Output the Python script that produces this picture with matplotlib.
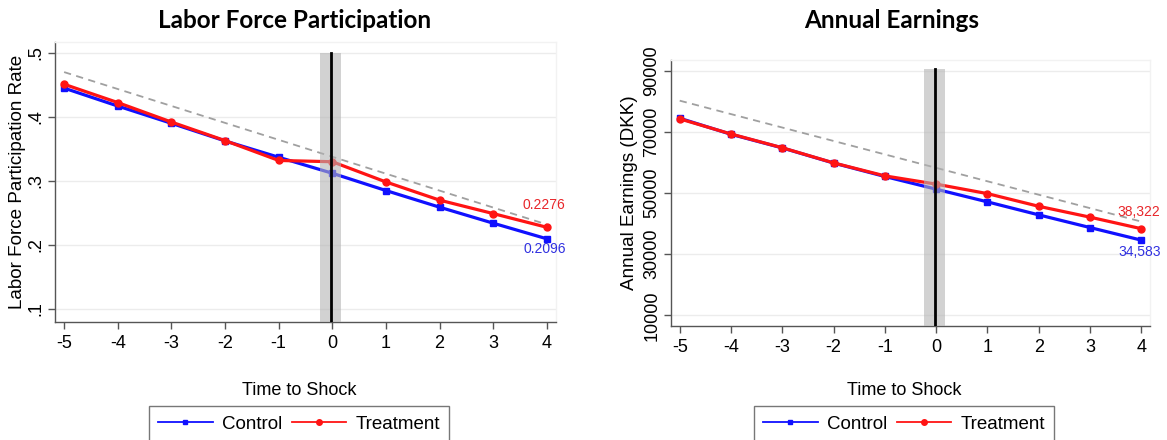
import matplotlib
matplotlib.use("Agg")
import matplotlib.pyplot as plt

plt.rcParams['font.family'] = ['Liberation Sans', 'DejaVu Sans']

# Event time relative to the shock
time_to_shock = [-5, -4, -3, -2, -1, 0, 1, 2, 3, 4]

# Labor force participation rate
lfp_control = [0.445, 0.417, 0.390, 0.3625, 0.337, 0.312, 0.285, 0.259, 0.234, 0.2096]
lfp_treatment = [0.451, 0.4224, 0.392, 0.363, 0.332, 0.330, 0.2984, 0.270, 0.249, 0.2276]
lfp_trend = [0.470, 0.232]          # dashed pre-trend projection, at t=-5 and t=4
lfp_yticks = [0.1, 0.2, 0.3, 0.4, 0.5]
lfp_yticklabels = ['.1', '.2', '.3', '.4', '.5']

# Annual earnings (DKK)
earn_control = [74450, 69200, 64750, 59800, 55400, 51250, 47100, 42850, 38700, 34583]
earn_treatment = [74250, 69300, 64800, 59850, 55600, 52900, 49800, 45650, 42100, 38322]
earn_trend = [80200, 40650]
earn_yticks = [10000, 30000, 50000, 70000, 90000]
earn_yticklabels = ['10000', '30000', '50000', '70000', '90000']

xticks = [-5, -4, -3, -2, -1, 0, 1, 2, 3, 4]
xticklabels = ['-5', '-4', '-3', '-2', '-1', '0', '1', '2', '3', '4']

BLUE = '#1010ff'
RED = '#ff1414'
GRID = '#ececec'
SPINE = '#555555'

W, H = 1167, 440
fig = plt.figure(figsize=(W / 100, H / 100), dpi=100)


def frac_box(x0, x1, ytop, ybot):
    return [x0 / W, (H - ybot) / H, (x1 - x0) / W, (ybot - ytop) / H]


def panel(ax, control, treatment, trend, ylim, yticks, yticklabels, ylabel,
          ylabel_x, band_top, end_labels, label_offsets, center_x):
    ax.set_xlim(-5.17, 4.17)
    ax.set_ylim(*ylim)
    ax.set_yticks(yticks)
    ax.set_yticklabels(yticklabels, rotation=90, va='center')
    ax.set_xticks(xticks)
    ax.set_xticklabels(xticklabels)
    ax.tick_params(axis='both', labelsize=13, length=5, width=1, color=SPINE,
                   direction='out', pad=4)
    ax.tick_params(axis='y', pad=2.5)
    for y in yticks:
        ax.axhline(y, color=GRID, lw=1, zorder=0)
    for s in ['top', 'right']:
        ax.spines[s].set_color('#f2f2f2')
        ax.spines[s].set_linewidth(1)
    for s in ['left', 'bottom']:
        ax.spines[s].set_color(SPINE)
        ax.spines[s].set_linewidth(1)

    ax.plot([time_to_shock[0], time_to_shock[-1]], trend, color='#a0a0a0',
            lw=1.3, ls=(0, (4, 3)), zorder=2)
    ax.plot(time_to_shock, control, color=BLUE, lw=2.3, marker='s', ms=4,
            zorder=3, label='Control')
    ax.plot(time_to_shock, treatment, color=RED, lw=2.3, marker='o', ms=5,
            zorder=4, label='Treatment')

    # shock window
    ax.fill_between([-0.23, 0.17], ylim[0], band_top, color='#b4b4b4',
                    alpha=0.6, lw=0, zorder=5)
    ax.plot([-0.03, -0.03], [ylim[0], band_top], color='black', lw=2, zorder=6)

    ax.set_ylabel(ylabel, fontsize=13.6)
    x0 = ax.get_position().x0 * W
    ax.yaxis.set_label_coords((ylabel_x - x0) / (ax.get_position().width * W), 0.5)
    fig.text(center_x / W, 1 - 390 / H, 'Time to Shock', ha='center',
             va='center', fontsize=13)

    (tlab, clab), (toff, coff) = end_labels, label_offsets
    ax.annotate(tlab, (time_to_shock[-1], treatment[-1]), xytext=(-3, toff),
                textcoords='offset pixels', ha='center', va='center',
                color='#e8262a', fontsize=10, annotation_clip=False, zorder=7)
    ax.annotate(clab, (time_to_shock[-1], control[-1]), xytext=(-2, coff),
                textcoords='offset pixels', ha='center', va='center',
                color='#3030e0', fontsize=10, annotation_clip=False, zorder=7)

    leg = ax.legend(loc='upper center', bbox_to_anchor=(center_x / W, 1 - 406 / H),
                    bbox_transform=fig.transFigure, ncol=2,
                    fontsize=13.5, frameon=True, fancybox=False, handlelength=2.9,
                    handletextpad=0.5, columnspacing=0.5, borderpad=0.5,
                    borderaxespad=0, markerscale=0.8)
    leg.get_frame().set_edgecolor('#555555')
    leg.get_frame().set_linewidth(1)
    for h in leg.legend_handles:
        h.set_linewidth(1.3)


ax1 = fig.add_axes(frac_box(55, 556, 42, 322))
panel(ax1, lfp_control, lfp_treatment, lfp_trend, (0.0797, 0.517),
      lfp_yticks, lfp_yticklabels, 'Labor Force Participation Rate', 26, 0.5,
      ('0.2276', '0.2096'), (22, -10), 299)

ax2 = fig.add_axes(frac_box(671, 1150, 60, 326))
panel(ax2, earn_control, earn_treatment, earn_trend, (6500, 93500),
      earn_yticks, earn_yticklabels, 'Annual Earnings (DKK)', 638, 90500,
      ('38,322', '34,583'), (17, -12), 904)

fig.text(295 / W, 1 - 20 / H, 'Labor Force Participation', ha='center',
         va='center', fontsize=17.5, fontweight='bold', family='Lato')
fig.text(892 / W, 1 - 20 / H, 'Annual Earnings', ha='center',
         va='center', fontsize=17.5, fontweight='bold', family='Lato')

fig.savefig('out.png', dpi=100)
